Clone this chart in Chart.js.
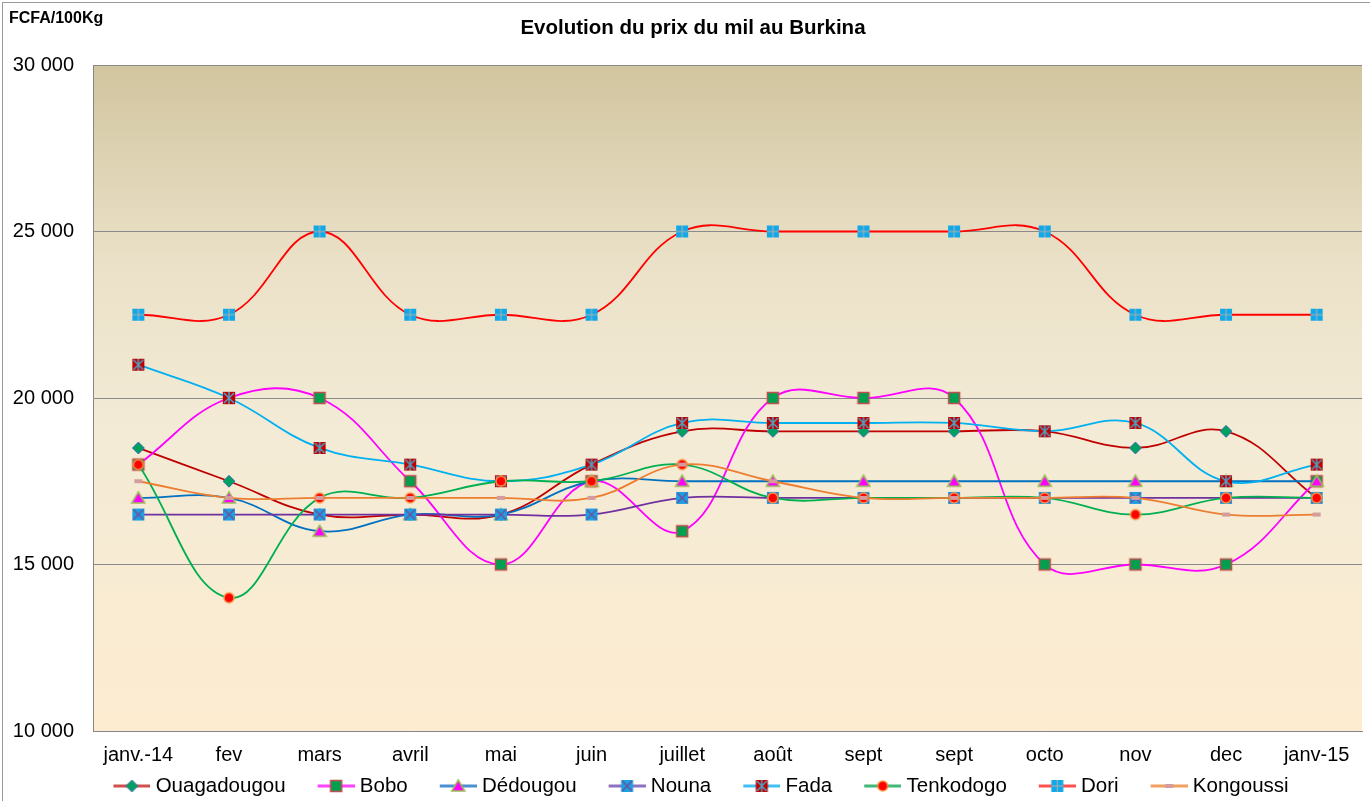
<!DOCTYPE html>
<html>
<head>
<meta charset="utf-8">
<script src="https://cdn.jsdelivr.net/npm/chart.js@4.4.0/dist/chart.umd.min.js"></script>
<style>
	body { margin: 0; background: #fff; }
	#wrap { position: relative; width: 1370px; height: 801px; }
	#frame { position: absolute; left: 2px; top: 2px; right: 0; bottom: 0; border-left: 1px solid #9a9a9a; border-top: 1px solid #9a9a9a; pointer-events: none; }
	#title { position: absolute; left: 0; top: 15px; width: 1386px; text-align: center; font: bold 20.5px "Liberation Sans", Arial, sans-serif; color: #000; }
	#unit { position: absolute; left: 9px; top: 9px; font: bold 16px "Liberation Sans", Arial, sans-serif; color: #000; }
</style>
</head>
<body>
<div id="wrap">
	<canvas id="myChart" width="1370" height="801"></canvas>
	<div id="frame"></div>
	<div id="unit">FCFA/100Kg</div>
	<div id="title">Evolution du prix du mil au Burkina</div>
</div>
<script>
const months = ["janv.-14", "fev", "mars", "avril", "mai", "juin", "juillet", "août", "sept", "sept", "octo", "nov", "dec", "janv-15"];

const ouagadougou = [18500, 17500, 16500, 16500, 16500, 18000, 19000, 19000, 19000, 19000, 19000, 18500, 19000, 17000];
const bobo = [18000, 20000, 20000, 17500, 15000, 17500, 16000, 20000, 20000, 20000, 15000, 15000, 15000, 17500];
const dedougou = [17000, 17000, 16000, 16500, 16500, 17500, 17500, 17500, 17500, 17500, 17500, 17500, 17500, 17500];
const nouna = [16500, 16500, 16500, 16500, 16500, 16500, 17000, 17000, 17000, 17000, 17000, 17000, 17000, 17000];
const fada = [21000, 20000, 18500, 18000, 17500, 18000, 19250, 19250, 19250, 19250, 19000, 19250, 17500, 18000];
const tenkodogo = [18000, 14000, 17000, 17000, 17500, 17500, 18000, 17000, 17000, 17000, 17000, 16500, 17000, 17000];
const dori = [22500, 22500, 25000, 22500, 22500, 22500, 25000, 25000, 25000, 25000, 25000, 22500, 22500, 22500];
const kongoussi = [17500, 17000, 17000, 17000, 17000, 17000, 18000, 17500, 17000, 17000, 17000, 17000, 16500, 16500];

const seriesNames = ["Ouagadougou", "Bobo", "Dédougou", "Nouna", "Fada", "Tenkodogo", "Dori", "Kongoussi"];
const seriesValues = [ouagadougou, bobo, dedougou, nouna, fada, tenkodogo, dori, kongoussi];
const lineColors = ["#c00000", "#ff00ff", "#0070c0", "#7030a0", "#00b0f0", "#00b050", "#ff0000", "#ed7d31"];
const legendColors = ["#d0504d", "#ff40ff", "#4a90d0", "#9070c0", "#40c0f0", "#40b878", "#ff5050", "#f0a060"];

const FONT = '"Liberation Sans", Arial, sans-serif';

// marker painters, one per series
function drawMarker(ctx, i, x, y) {
	ctx.save();
	ctx.lineWidth = 1.5;
	if (i === 0) { // diamond
		ctx.beginPath();
		ctx.moveTo(x, y - 6); ctx.lineTo(x + 6, y); ctx.lineTo(x, y + 6); ctx.lineTo(x - 6, y); ctx.closePath();
		ctx.fillStyle = "#00a060"; ctx.fill();
		ctx.strokeStyle = "#4a6fb5"; ctx.lineWidth = 1; ctx.stroke();
	} else if (i === 1) { // square
		ctx.fillStyle = "#00a050"; ctx.fillRect(x - 5.5, y - 5.5, 11, 11);
		ctx.strokeStyle = "#c0504d"; ctx.strokeRect(x - 5.5, y - 5.5, 11, 11);
	} else if (i === 2) { // triangle
		ctx.beginPath();
		ctx.moveTo(x, y - 6); ctx.lineTo(x + 6.5, y + 5); ctx.lineTo(x - 6.5, y + 5); ctx.closePath();
		ctx.fillStyle = "#ff00ff"; ctx.fill();
		ctx.strokeStyle = "#9bbb59"; ctx.stroke();
	} else if (i === 3) { // square with x
		ctx.fillStyle = "#1ba1e2"; ctx.fillRect(x - 6, y - 6, 12, 12);
		ctx.strokeStyle = "#6f4fa0";
		ctx.beginPath();
		ctx.moveTo(x - 5, y - 5); ctx.lineTo(x + 5, y + 5);
		ctx.moveTo(x + 5, y - 5); ctx.lineTo(x - 5, y + 5);
		ctx.stroke();
	} else if (i === 4) { // square with star
		ctx.fillStyle = "#c00000"; ctx.fillRect(x - 6, y - 6, 12, 12);
		ctx.strokeStyle = "#4f9fc0";
		ctx.beginPath();
		ctx.moveTo(x - 5, y - 5); ctx.lineTo(x + 5, y + 5);
		ctx.moveTo(x + 5, y - 5); ctx.lineTo(x - 5, y + 5);
		ctx.moveTo(x, y - 6); ctx.lineTo(x, y + 6);
		ctx.stroke();
	} else if (i === 5) { // circle
		ctx.beginPath(); ctx.arc(x, y, 5, 0, Math.PI * 2);
		ctx.fillStyle = "#ff0000"; ctx.fill();
		ctx.strokeStyle = "#f79646"; ctx.stroke();
	} else if (i === 6) { // square with plus
		ctx.fillStyle = "#10a8e8"; ctx.fillRect(x - 6, y - 6, 12, 12);
		ctx.strokeStyle = "#b0b0b0"; ctx.lineWidth = 1;
		ctx.beginPath();
		ctx.moveTo(x - 6, y); ctx.lineTo(x + 6, y);
		ctx.moveTo(x, y - 6); ctx.lineTo(x, y + 6);
		ctx.stroke();
	} else { // short dash
		ctx.fillStyle = "#d49c9c"; ctx.fillRect(x - 4, y - 2, 8, 4);
	}
	ctx.restore();
}

function pointCanvas(i) {
	const c = document.createElement("canvas");
	c.width = 16; c.height = 16;
	drawMarker(c.getContext("2d"), i, 8, 8);
	return c;
}

// legend icon: blank left part acts as the gap between items, line+marker on the right
function legendCanvas(i) {
	const c = document.createElement("canvas");
	c.width = 72; c.height = 16;
	const ctx = c.getContext("2d");
	ctx.strokeStyle = legendColors[i];
	ctx.lineWidth = 3;
	ctx.beginPath(); ctx.moveTo(35, 8); ctx.lineTo(72, 8); ctx.stroke();
	drawMarker(ctx, i, 53.5, 8);
	return c;
}

const legendIcons = seriesNames.map((n, i) => legendCanvas(i));

const plotBg = {
	id: "plotBg",
	beforeDraw(chart) {
		const { ctx, chartArea: a } = chart;
		const g = ctx.createLinearGradient(0, a.top, 0, a.bottom);
		g.addColorStop(0, "#d1c59f");
		g.addColorStop(0.3, "#ebe1c8");
		g.addColorStop(0.55, "#f3ebd6");
		g.addColorStop(1, "#fdecd0");
		ctx.save();
		ctx.fillStyle = g;
		ctx.fillRect(a.left, a.top, a.right - a.left, a.bottom - a.top);
		ctx.restore();
	}
};

const datasets = seriesNames.map((name, i) => ({
	label: name,
	data: seriesValues[i],
	borderColor: lineColors[i],
	backgroundColor: lineColors[i],
	borderWidth: 1.8,
	tension: 0.4,
	pointStyle: pointCanvas(i),
	pointRadius: 6,
	order: seriesNames.length - i
}));

new Chart(document.getElementById("myChart"), {
	type: "line",
	data: { labels: months, datasets: datasets },
	plugins: [plotBg],
	options: {
		responsive: false,
		animation: false,
		layout: { padding: { left: 10, right: 8, top: 65, bottom: -5.25 } },
		plugins: {
			tooltip: { enabled: false },
			legend: {
				position: "bottom",
				labels: {
					usePointStyle: true,
					pointStyleWidth: 62,
					padding: 2,
					color: "#000",
					font: { family: FONT, size: 20.5 },
					sort: (a, b) => a.datasetIndex - b.datasetIndex,
					generateLabels(chart) {
						const items = Chart.defaults.plugins.legend.labels.generateLabels(chart);
						items.forEach((it) => { it.pointStyle = legendIcons[it.datasetIndex]; });
						return items;
					}
				}
			}
		},
		scales: {
			x: {
				offset: true,
				grid: { display: false, drawTicks: false },
				border: { color: "#868686", width: 1 },
				ticks: { color: "#000", font: { family: FONT, size: 20 }, padding: 12, maxRotation: 0, autoSkip: false },
				afterFit(scale) { scale.height = 42.75; }
			},
			y: {
				min: 10000,
				max: 30000,
				grid: { color: "#8a8a8a", drawTicks: false },
				border: { color: "#868686", width: 1 },
				ticks: {
					stepSize: 5000,
					padding: 19,
					color: "#000",
					font: { family: FONT, size: 20 },
					callback: (v) => String(v).replace(/(\d+)(\d{3})$/, "$1 $2")
				},
				afterFit(scale) { scale.width = 83; }
			}
		}
	}
});
</script>
</body>
</html>
